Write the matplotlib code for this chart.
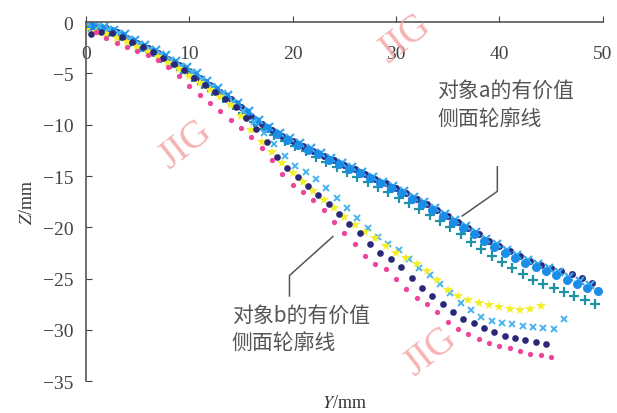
import numpy as np
import matplotlib.pyplot as plt

plt.rcParams['font.family'] = ['Liberation Serif', 'DejaVu Serif']
plt.rcParams['mathtext.fontset'] = 'stix'
plt.rcParams['axes.unicode_minus'] = True

# object a: four upper curves, each sampled on its own Y grid (mm)
y_a_navy = np.arange(0.0, 50.0, 1.0)
z_a_navy = [-0.2, -0.4, -0.6, -1.0, -1.5, -2.0, -2.5, -3.0, -3.6, -4.2,
            -4.8, -5.4, -6.1, -6.8, -7.5, -8.3, -9.1, -9.9, -10.5, -11.1,
            -11.6, -12.1, -12.6, -13.0, -13.4, -13.9, -14.3, -14.8, -15.3, -15.7,
            -16.2, -16.7, -17.2, -17.7, -18.3, -18.9, -19.5, -20.1, -20.7, -21.3,
            -21.8, -22.3, -22.8, -23.3, -23.7, -24.0, -24.3, -24.6, -24.9, -25.4]

y_a_blue = np.arange(0.5, 50.0, 1.0)
z_a_blue = [-0.4, -0.6, -0.9, -1.3, -1.8, -2.4, -2.9, -3.4, -4.0, -4.6,
            -5.2, -5.9, -6.6, -7.2, -8.0, -8.8, -9.6, -10.3, -10.9, -11.5,
            -12.0, -12.5, -12.9, -13.4, -13.8, -14.3, -14.7, -15.2, -15.7, -16.2,
            -16.7, -17.2, -17.7, -18.3, -18.9, -19.5, -20.1, -20.7, -21.3, -21.9,
            -22.5, -23.0, -23.5, -23.9, -24.3, -24.7, -25.1, -25.5, -25.9, -26.2]

y_a_teal = np.arange(0.25, 50.0, 1.0)
z_a_teal = [-0.5, -0.7, -1.0, -1.4, -1.9, -2.4, -2.9, -3.5, -4.1, -4.7,
            -5.3, -6.0, -6.7, -7.4, -8.1, -8.9, -9.7, -10.4, -11.0, -11.6,
            -12.1, -12.6, -13.1, -13.6, -14.1, -14.6, -15.1, -15.6, -16.1, -16.6,
            -17.1, -17.6, -18.2, -18.8, -19.4, -20.0, -20.7, -21.4, -22.1, -22.8,
            -23.4, -24.0, -24.6, -25.1, -25.5, -25.9, -26.3, -26.7, -27.1, -27.5]

y_a_light = np.arange(0.75, 49.0, 1.0)
z_a_light = [-0.3, -0.5, -0.8, -1.2, -1.7, -2.2, -2.7, -3.2, -3.8, -4.4,
             -5.0, -5.7, -6.4, -7.1, -7.9, -8.7, -9.5, -10.2, -10.8, -11.3,
             -11.8, -12.3, -12.8, -13.2, -13.7, -14.1, -14.6, -15.1, -15.6, -16.0,
             -16.5, -17.0, -17.5, -18.1, -18.7, -19.3, -19.9, -20.5, -21.1, -21.6,
             -22.2, -22.7, -23.2, -23.6, -24.0, -24.4, -24.8, -25.2, -25.6]

# object b: four lower curves
y_b_pink = np.arange(1.0, 46.0, 1.0)
z_b_pink = [-1.0, -1.5, -2.0, -2.4, -2.8, -3.2, -3.7, -4.4, -5.2, -6.2,
            -7.1, -7.9, -8.7, -9.5, -10.3, -11.2, -12.3, -13.4, -14.8, -15.9,
            -16.6, -17.3, -18.3, -19.5, -20.6, -21.6, -22.8, -23.6, -24.1, -25.0,
            -26.0, -26.9, -27.5, -28.3, -29.2, -29.9, -30.4, -30.9, -31.3, -31.6,
            -31.8, -32.1, -32.4, -32.5, -32.6]

y_b_navy = np.arange(0.5, 45.0, 1.0)
z_b_navy = [-1.2, -1.0, -1.1, -1.4, -1.9, -2.4, -2.9, -3.5, -4.1, -4.7,
            -5.4, -6.1, -6.8, -7.5, -8.3, -9.3, -10.4, -11.7, -13.1, -14.2,
            -15.1, -16.0, -16.9, -17.7, -18.7, -19.7, -20.6, -21.6, -22.5, -23.1,
            -23.9, -24.9, -25.9, -26.7, -27.5, -28.3, -28.9, -29.3, -29.8, -30.2,
            -30.6, -30.8, -31.0, -31.2, -31.4]

y_b_yellow = np.arange(0.0, 45.0, 1.0)
z_b_yellow = [-0.8, -1.0, -1.2, -1.5, -1.9, -2.4, -2.9, -3.4, -4.0, -4.6,
              -5.2, -5.9, -6.6, -7.3, -8.1, -9.1, -10.5, -11.7, -12.7, -13.7,
              -14.7, -15.6, -16.5, -17.3, -18.1, -19.0, -19.8, -20.5, -21.0, -21.8,
              -22.5, -23.0, -23.6, -24.3, -25.1, -26.1, -26.7, -27.1, -27.4, -27.6,
              -27.8, -28.0, -28.1, -28.0, -27.7]

y_b_light = np.arange(0.25, 47.0, 1.0)
z_b_light = [-0.2, -0.4, -0.7, -1.1, -1.6, -2.1, -2.6, -3.1, -3.7, -4.3,
             -4.9, -5.5, -6.2, -6.9, -7.8, -8.7, -9.7, -10.8, -11.9, -13.0,
             -14.0, -14.6, -15.3, -16.2, -17.1, -18.1, -19.1, -20.1, -20.9, -21.6,
             -22.2, -23.1, -24.0, -24.7, -25.5, -26.4, -27.4, -28.1, -28.7, -29.1,
             -29.3, -29.4, -29.6, -29.7, -29.8, -29.9, -28.9]

x_ticks = [0, 10, 20, 30, 40, 50]
z_ticks = [0, -5, -10, -15, -20, -25, -30, -35]

label_a = '对象a的有价值\n侧面轮廓线'
label_b = '对象b的有价值\n侧面轮廓线'
cjk = ['Noto Sans CJK SC', 'DejaVu Sans']

fig = plt.figure(figsize=(6.17, 4.14), dpi=100)
ax = fig.add_axes([0.139, 0.077, 0.838, 0.867])

# upper curves (object a)
ax.plot(y_a_teal, z_a_teal, ls='none', marker='+', ms=6.5, mew=1.6, color='#1f93a3')
ax.plot(y_a_navy, z_a_navy, ls='none', marker='o', ms=5, mew=0, color='#2c2a7c')
ax.plot(y_a_light, z_a_light, ls='none', marker='x', ms=5.5, mew=1.6, color='#3aa8ee')
ax.plot(y_a_blue, z_a_blue, ls='none', marker='o', ms=6.5, mew=0, color='#1a8ee6')

# lower curves (object b)
ax.plot(y_b_light, z_b_light, ls='none', marker='x', ms=4.5, mew=1.4, color='#48b4f0')
ax.plot(y_b_yellow, z_b_yellow, ls='none', marker='*', ms=7.5, mew=0, color='#f2ee2a')
ax.plot(y_b_navy, z_b_navy, ls='none', marker='o', ms=4.8, mew=0, color='#2b2878')
ax.plot(y_b_pink, z_b_pink, ls='none', marker='o', ms=3.8, mew=0, color='#ee4499')

ax.set_xlim(0, 50)
ax.set_ylim(-35, 0)
ax.spines['right'].set_visible(False)
ax.spines['bottom'].set_visible(False)
for s in ('left', 'top'):
    ax.spines[s].set_color('#555555')
    ax.spines[s].set_linewidth(1.2)

ax.set_xticks(x_ticks)
ax.set_yticks(z_ticks)
ax.set_yticklabels(['0'] + ['\u2212%d' % abs(v) for v in z_ticks[1:]])
ax.tick_params(axis='x', top=True, bottom=False, labeltop=True, labelbottom=False,
               direction='out', length=4, pad=-33, colors='#444444', labelsize=14)
ax.tick_params(axis='y', direction='in', length=4, pad=9, colors='#444444', labelsize=14)

ax.set_xlabel('$Y$/mm', fontsize=13, color='#333333', labelpad=9)
ax.xaxis.set_label_position('bottom')
ax.set_ylabel('$Z$/mm', fontsize=13, color='#333333', labelpad=5)

# callouts
ax.text(34.0, -8.0, label_a, family=cjk, fontsize=15, color='#555555',
        ha='left', va='center', linespacing=1.4)
ax.plot([39.8, 39.8, 36.4], [-14.1, -16.5, -18.9], color='#555555', lw=1.1)
ax.text(14.1, -29.9, label_b, family=cjk, fontsize=15, color='#555555',
        ha='left', va='center', linespacing=1.4)
ax.plot([19.7, 19.7, 23.9], [-26.7, -24.7, -20.9], color='#555555', lw=1.1)

# watermarks
for wx, wy in [(0.30, 0.65), (0.656, 0.905), (0.697, 0.15)]:
    fig.text(wx, wy, 'JIG', fontsize=28, color='#f4a0a0', alpha=0.8, rotation=38,
             ha='center', va='center')

fig.savefig('out.png', dpi=100)
